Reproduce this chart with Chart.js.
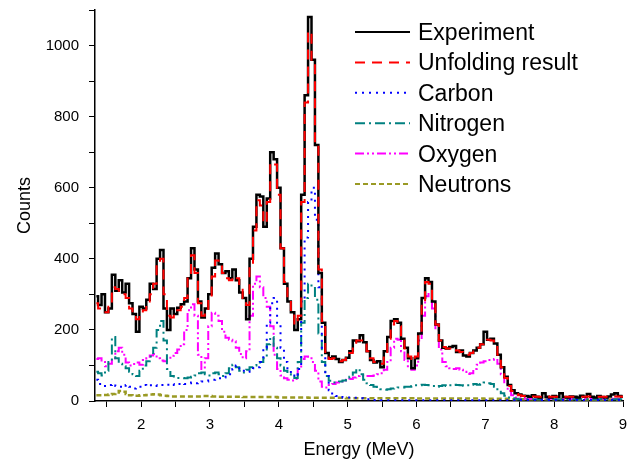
<!DOCTYPE html>
<html>
<head>
<meta charset="utf-8">
<script src="https://cdn.jsdelivr.net/npm/chart.js@4.4.1/dist/chart.umd.min.js"></script>
<style>
  html, body { margin: 0; padding: 0; background: #fff; }
</style>
</head>
<body>
<canvas id="myChart" width="638" height="462"></canvas>
<script>
// Energia (MeV), paso 0.05
var energy = [
  1.35,1.4,1.45,1.5,1.55,1.6,1.65,1.7,1.75,1.8,1.85,1.9,1.95,2,2.05,2.1,2.15,2.2,2.25,2.3,
  2.35,2.4,2.45,2.5,2.55,2.6,2.65,2.7,2.75,2.8,2.85,2.9,2.95,3,3.05,3.1,3.15,3.2,3.25,3.3,
  3.35,3.4,3.45,3.5,3.55,3.6,3.65,3.7,3.75,3.8,3.85,3.9,3.95,4,4.05,4.1,4.15,4.2,4.25,4.3,
  4.35,4.4,4.45,4.5,4.55,4.6,4.65,4.7,4.75,4.8,4.85,4.9,4.95,5,5.05,5.1,5.15,5.2,5.25,5.3,
  5.35,5.4,5.45,5.5,5.55,5.6,5.65,5.7,5.75,5.8,5.85,5.9,5.95,6,6.05,6.1,6.15,6.2,6.25,6.3,
  6.35,6.4,6.45,6.5,6.55,6.6,6.65,6.7,6.75,6.8,6.85,6.9,6.95,7,7.05,7.1,7.15,7.2,7.25,7.3,
  7.35,7.4,7.45,7.5,7.55,7.6,7.65,7.7,7.75,7.8,7.85,7.9,7.95,8,8.05,8.1,8.15,8.2,8.25,8.3,
  8.35,8.4,8.45,8.5,8.55,8.6,8.65,8.7,8.75,8.8,8.85,8.9,8.95,9
];

var experiment = [
  295,270,300,250,260,355,310,340,305,330,275,245,195,265,260,285,330,315,400,425,
  260,200,260,245,262,272,280,345,430,370,280,235,260,300,375,415,385,360,365,345,
  370,340,305,290,230,400,490,580,575,490,570,700,680,600,430,330,280,250,200,230,
  580,860,1080,960,720,360,220,135,120,125,118,110,115,122,140,170,168,185,165,140,
  115,108,112,95,140,180,225,230,220,175,150,120,92,120,190,290,345,335,280,215,
  170,150,148,152,155,138,142,128,125,135,142,150,160,195,172,175,162,130,95,68,
  45,30,22,18,15,14,12,16,12,10,22,12,10,14,12,22,11,10,13,12,
  10,15,12,20,12,10,14,11,10,13,18,22,14,12
];

var unfolding = [
  275,260,250,250,265,320,315,310,300,290,260,240,230,245,255,280,300,330,385,400,
  300,240,235,245,255,265,290,360,410,360,275,240,250,290,350,395,390,360,345,340,
  350,345,320,290,270,380,480,565,550,500,560,670,665,580,430,335,285,245,215,240,
  560,840,1040,950,720,370,225,130,118,120,115,112,115,120,135,160,170,170,160,140,
  120,110,108,105,135,175,215,225,210,175,148,125,112,125,190,280,335,330,280,215,
  170,152,148,148,150,142,138,132,130,135,145,150,160,168,172,170,160,130,95,65,
  42,28,20,16,14,13,13,13,12,12,13,13,12,12,12,13,12,12,12,12,
  12,12,12,13,12,12,12,12,12,12,13,13,13,12
];

var carbon = [
  60,48,45,42,45,48,42,40,38,45,40,35,38,40,45,42,44,45,42,45,
  44,46,48,45,48,50,48,50,52,50,52,55,55,58,60,62,64,66,68,75,
  90,100,92,85,82,88,92,95,110,150,220,275,290,220,150,110,85,72,68,90,
  280,460,560,600,510,320,150,70,30,18,14,11,10,10,10,9,9,8,6,5,
  4,3,3,2,2,2,2,2,2,2,2,2,2,2,2,2,2,2,2,2,
  2,2,2,2,2,2,2,2,2,2,2,2,2,2,2,2,2,2,2,2,
  2,2,3,3,3,3,3,3,3,3,3,3,3,3,3,3,3,3,3,3,
  3,3,3,3,3,3,3,3,3,3,3,3,3,3
];

var nitrogen = [
  82,78,72,85,110,180,120,105,98,92,82,75,70,85,100,112,125,150,200,225,
  170,90,70,66,65,65,64,66,68,72,78,80,75,72,78,80,75,70,78,92,
  102,95,85,80,88,95,100,105,110,120,160,180,150,120,100,85,75,68,65,110,
  220,290,330,322,285,190,110,70,57,52,52,55,58,62,68,80,90,75,60,50,
  45,40,36,33,32,33,35,37,38,38,40,40,42,44,44,46,45,44,42,40,
  42,44,42,44,46,45,44,43,44,46,48,46,48,52,50,48,40,30,22,15,
  10,8,6,5,5,5,5,5,5,5,5,5,5,5,5,5,5,5,5,5,
  5,5,5,5,5,5,5,5,5,5,5,5,5,5
];

var oxygen = [
  118,120,110,98,105,120,140,150,130,108,100,104,108,102,115,120,128,132,120,114,
  112,118,127,135,145,160,200,255,272,240,130,90,120,210,248,240,225,195,178,172,
  168,150,132,120,140,240,330,350,320,290,265,210,130,90,72,64,60,58,62,90,
  118,125,120,110,85,55,40,38,45,48,52,55,58,60,62,66,70,72,70,70,
  70,72,75,78,88,110,150,175,172,140,115,95,88,100,170,240,295,305,260,200,
  145,110,98,92,90,92,88,82,76,78,90,102,108,112,115,116,118,105,75,48,
  28,16,10,8,7,6,6,6,6,6,6,6,6,6,6,6,6,6,6,6,
  6,6,6,6,6,6,6,6,6,6,6,6,6,6
];

var neutrons = [
  16,16,17,17,18,20,24,28,26,20,16,15,15,16,16,17,18,19,18,16,
  15,14,13,13,13,13,13,13,13,13,13,14,14,14,13,13,12,12,12,12,
  12,12,12,11,11,11,11,11,11,11,11,11,11,10,10,10,10,10,10,10,
  10,10,9,9,9,9,9,9,9,9,9,9,9,8,8,8,8,8,8,8,
  8,8,8,8,8,8,8,8,8,8,8,8,8,7,7,7,7,7,7,7,
  7,7,7,7,7,7,7,7,7,7,7,7,7,6,6,6,6,6,6,6,
  6,5,5,5,5,5,5,5,5,5,5,5,5,5,5,5,5,5,5,5,
  4,4,4,4,4,4,4,4,4,4,4,4,4,4
];

var fontFam = '"Liberation Sans", Arial, sans-serif';

function pts(arr) {
  return arr.map(function (v, i) { return { x: energy[i], y: v }; });
}

//Leyenda a la derecha, dentro del grafico
const sideLegend = {
  id: 'sideLegend',
  afterDraw: function (chart) {
    const ctx = chart.ctx;
    ctx.save();
    ctx.font = '23px ' + fontFam;
    ctx.textBaseline = 'alphabetic';
    chart.data.datasets.forEach(function (ds, i) {
      const y = 32 + i * 30.4;
      ctx.strokeStyle = ds.borderColor;
      ctx.lineWidth = 2;
      ctx.setLineDash(ds.borderDash || []);
      ctx.beginPath();
      ctx.moveTo(355, y);
      ctx.lineTo(410, y);
      ctx.stroke();
      ctx.setLineDash([]);
      ctx.fillStyle = '#000';
      ctx.fillText(ds.label, 418, y + 8);
    });
    ctx.restore();
  }
};

var data = {
  datasets: [
    { label: 'Experiment', data: pts(experiment), borderColor: '#000000', borderWidth: 2.5, order: 1 },
    { label: 'Unfolding result', data: pts(unfolding), borderColor: '#ff0000', borderWidth: 2, borderDash: [10, 7], order: 0 },
    { label: 'Carbon', data: pts(carbon), borderColor: '#0000ff', borderWidth: 2, borderDash: [2, 5], order: 2 },
    { label: 'Nitrogen', data: pts(nitrogen), borderColor: '#008080', borderWidth: 2, borderDash: [10, 4, 2, 4], order: 3 },
    { label: 'Oxygen', data: pts(oxygen), borderColor: '#ff00ff', borderWidth: 2, borderDash: [9, 3, 2, 3, 2, 3], order: 4 },
    { label: 'Neutrons', data: pts(neutrons), borderColor: '#9a9a24', borderWidth: 2.5, borderDash: [5, 3], order: 5 }
  ]
};

const config = {
  type: 'line',
  data: data,
  options: {
    responsive: false,
    animation: false,
    layout: { padding: { left: 14, right: 15, top: 10, bottom: 1 } },
    elements: {
      point: { radius: 0 },
      line: { tension: 0, stepped: 'middle', fill: false }
    },
    plugins: {
      legend: { display: false },
      tooltip: { enabled: false }
    },
    scales: {
      x: {
        type: 'linear',
        min: 1.33,
        max: 9,
        border: { display: true, color: '#000', width: 1.5 },
        grid: { drawOnChartArea: false, drawTicks: true, tickLength: 6, tickColor: '#000', tickWidth: 1 },
        ticks: {
          stepSize: 0.5,
          includeBounds: false,
          autoSkip: false,
          maxRotation: 0,
          padding: 9,
          color: '#000',
          font: { family: fontFam, size: 15 },
          callback: function (value) { return Number.isInteger(value) ? value : ''; }
        },
        title: { display: true, text: 'Energy (MeV)', color: '#000', font: { family: fontFam, size: 18 }, padding: 0 },
        afterFit: function (scale) { scale.height = 60; scale.paddingLeft = 0; scale.paddingRight = 0; }
      },
      y: {
        min: 0,
        max: 1100,
        border: { display: true, color: '#000', width: 1.5 },
        grid: { drawOnChartArea: false, drawTicks: true, tickLength: 6, tickColor: '#000', tickWidth: 1 },
        ticks: {
          stepSize: 100,
          autoSkip: false,
          padding: 10,
          color: '#000',
          font: { family: fontFam, size: 15 },
          callback: function (value) { return value % 200 === 0 ? value : ''; }
        },
        title: { display: true, text: 'Counts', color: '#000', font: { family: fontFam, size: 18 }, padding: 0 },
        afterFit: function (scale) { scale.width = 81; scale.paddingTop = 0; scale.paddingBottom = 0; }
      }
    }
  },
  plugins: [sideLegend]
};

const myChart = new Chart(document.getElementById('myChart'), config);
</script>
</body>
</html>
